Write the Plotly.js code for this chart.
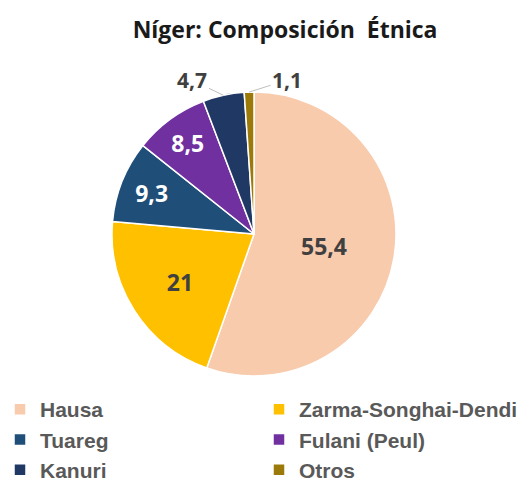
<!DOCTYPE html>
<html><head><meta charset="utf-8">
<script src="https://cdn.plot.ly/plotly-3.0.1.min.js"></script>
<style>html,body{margin:0;padding:0;background:#fff}</style>
</head><body>
<div id="chart" style="width:525px;height:490px"></div>
<script>
const labels = ["Hausa", "Zarma-Songhai-Dendi", "Tuareg", "Fulani (Peul)", "Kanuri", "Otros"];
const values = [55.4, 21, 9.3, 8.5, 4.7, 1.1];
const colors = ["#F8CBAD", "#FFC000", "#1F4E79", "#7030A0", "#203864", "#9C7A0A"];
const textColors = ["#404040", "#404040", "#FFFFFF", "#FFFFFF", "#404040", "#404040"];
const outsideLabel = [false, false, false, false, true, true];
const outsideOffsets = [null, null, null, null, [-31, -15], [38, -12]];

const W = 525, H = 490;
const cx = 254, cy = 234, R = 142;
const domX = [(cx - R) / W, (cx + R) / W];
const domY = [1 - (cy + R) / H, 1 - (cy - R) / H];

const fmt = v => String(v).replace(".", ",");
const texts = values.map((v, i) => outsideLabel[i] ? "" : fmt(v));

const trace = {
  type: "pie",
  labels: labels,
  values: values,
  sort: false,
  direction: "clockwise",
  rotation: 0,
  marker: {colors: colors, line: {color: "#FFFFFF", width: 1.5}},
  text: texts,
  textinfo: "text",
  textposition: "inside",
  insidetextorientation: "horizontal",
  textfont: {family: "Open Sans", size: 23, color: textColors, weight: "bold"},
  domain: {x: domX, y: domY},
  hoverinfo: "label+value"
};

const total = values.reduce((a, b) => a + b, 0);
const annotations = [];
let cum = 0;
values.forEach((v, i) => {
  const mid = (cum + v / 2) / total * 2 * Math.PI;
  cum += v;
  if (!outsideLabel[i]) return;
  const px = cx + R * Math.sin(mid);
  const py = cy - R * Math.cos(mid);
  annotations.push({
    xref: "paper", yref: "paper", x: px / W, y: 1 - py / H,
    text: "<b>" + fmt(v) + "</b>", showarrow: true, arrowhead: 0, arrowwidth: 1,
    arrowcolor: "#BFBFBF", ax: outsideOffsets[i][0], ay: outsideOffsets[i][1],
    font: {family: "Open Sans", size: 21, color: "#404040"}
  });
});

const layout = {
  width: W, height: H,
  margin: {l: 0, r: 0, t: 0, b: 0},
  separators: ",.",
  paper_bgcolor: "#FFFFFF",
  title: {text: "<b>Níger: Composición  Étnica</b>", x: 0.543, xanchor: "center", y: 0.938, yanchor: "middle",
          font: {family: "Open Sans", size: 23, color: "#1a1a1a"}},
  showlegend: true,
  legend: {orientation: "h", x: 0.0, xanchor: "left", y: 0.0, yanchor: "bottom",
           entrywidth: 214, entrywidthmode: "pixels", traceorder: "normal",
           font: {family: "Liberation Sans", size: 21, color: "#595959", weight: "bold"}},
  annotations: annotations
};

Plotly.newPlot("chart", [trace], layout, {displayModeBar: false, staticPlot: true});
</script>
</body></html>
